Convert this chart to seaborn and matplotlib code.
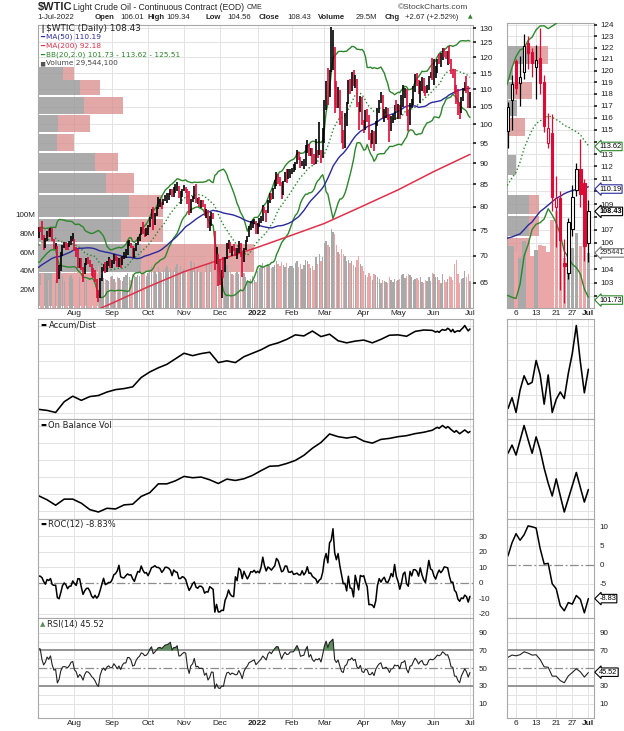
import numpy as np
import pandas as pd
import matplotlib
matplotlib.use("Agg")
import matplotlib.pyplot as plt
import matplotlib.ticker as mticker
import matplotlib.transforms as mtrans
import seaborn as sns

sns.set_theme(style="white")
plt.rcParams["font.family"] = ["DejaVu Sans"]

W, H = 624, 731

# ---------------- data ----------------
holidays = ["2021-07-05", "2021-09-06", "2021-11-25", "2021-12-24", "2022-01-17",
            "2022-02-21", "2022-04-15", "2022-05-30", "2022-06-20"]

# closes 2021-04-16 .. 2021-06-30 (only used to warm up MA / BB / RSI / ROC)
pre_close = [63.13, 63.38, 62.44, 61.35, 61.43, 62.14, 61.91, 62.94, 63.86, 65.01, 63.58,
             64.49, 65.69, 65.63, 64.71, 64.90, 64.92, 65.28, 66.08, 63.82, 65.37, 66.27,
             65.49, 63.36, 62.05, 63.58, 66.05, 65.76, 66.21, 66.85, 66.32,
             67.72, 68.83, 68.81, 69.62, 69.23, 70.05, 69.96, 70.29, 70.91, 70.88, 72.12,
             72.15, 71.04, 71.64, 73.66, 73.06, 73.08, 73.30, 74.05, 72.91, 72.98, 73.47]

# daily sessions 2021-07-01 .. 2022-07-01
close = [75.23, 75.16, 73.37, 72.20, 72.94, 74.56, 74.10, 75.25, 73.13, 71.65, 71.81, 66.42, 67.42, 70.30, 71.91, 72.07, 71.91, 71.65, 72.39, 73.62, 73.95,
         71.26, 70.56, 68.15, 69.09, 68.28, 66.48, 68.29, 69.25, 69.09, 68.44, 67.29, 66.59, 65.46, 63.50, 62.32, 65.64, 67.54, 68.36, 67.42, 68.74, 69.21, 68.50,
         68.59, 69.99, 69.29, 68.35, 69.30, 68.14, 69.72, 70.45, 70.46, 72.61, 72.61, 71.97, 70.29, 70.56, 72.23, 73.30, 73.98, 75.45, 75.29, 74.83, 75.03,
         75.88, 77.62, 78.93, 77.43, 78.30, 79.35, 80.52, 80.64, 80.44, 81.31, 82.28, 82.44, 82.96, 83.87, 82.50, 83.76, 83.76, 84.65, 82.66, 82.81, 83.57,
         84.05, 83.91, 80.86, 78.81, 81.27, 81.93, 84.15, 81.34, 81.59, 80.79, 80.88, 80.76, 78.36, 79.01, 75.94, 76.75, 78.50, 78.39, 68.15, 69.95, 66.18,
         65.57, 66.50, 66.26, 69.49, 72.05, 72.36, 70.94, 71.67, 71.29, 70.73, 70.87, 72.38, 70.86, 68.23, 71.12, 72.76, 73.79, 75.57, 75.98, 76.56, 76.99, 75.21,
         76.08, 76.99, 77.85, 79.46, 78.90, 78.23, 81.22, 82.64, 82.12, 83.82, 85.43, 86.96, 86.90, 85.14, 83.31, 85.60, 87.35, 86.61, 86.82, 88.15,
         88.20, 88.26, 90.27, 92.31, 91.32, 89.36, 89.66, 89.88, 93.10, 95.46, 92.07, 93.66, 91.76, 91.07, 92.35, 92.10, 92.81, 91.59, 95.72,
         103.41, 110.60, 107.67, 115.68, 119.40, 123.70, 108.70, 106.02, 109.33, 103.01, 96.44, 95.04, 102.98, 104.70, 112.12, 111.76, 114.93, 112.34, 113.90, 105.96, 104.24, 107.82, 100.28,
         99.27, 103.28, 101.96, 96.23, 96.03, 98.26, 94.29, 100.60, 104.25, 106.95, 108.21, 102.56, 102.75, 103.79, 102.07, 98.54, 101.70, 102.02, 105.36, 104.69,
         105.17, 102.41, 107.81, 108.26, 109.77, 103.09, 99.76, 105.71, 106.13, 110.49, 114.20, 112.40, 109.59, 112.21, 113.23, 110.29, 109.77, 110.33, 114.09, 115.07, 114.67,
         115.26, 116.87, 118.87, 118.50, 119.41, 122.11, 121.51, 120.67, 120.93, 118.93, 115.31, 115.10, 109.56, 109.52, 106.19, 104.27, 107.62, 109.57, 111.76, 109.78, 105.76,
         108.43]

high = [75.70, 75.65, 76.98, 73.95, 73.41, 74.90, 75.20, 75.52, 75.44, 73.30, 72.50, 71.80, 68.20, 70.65, 72.10, 72.60, 72.60, 72.35, 72.90, 73.90, 74.50,
        73.30, 71.60, 71.20, 69.60, 69.60, 67.80, 68.60, 69.60, 69.70, 69.10, 68.40, 67.70, 67.40, 65.60, 63.80, 65.90, 67.80, 68.50, 68.70, 69.00, 69.70, 69.30,
        69.20, 70.30, 70.10, 69.80, 69.50, 69.70, 69.90, 70.70, 71.20, 72.90, 73.10, 72.50, 71.90, 71.40, 72.50, 73.60, 74.20, 75.70, 76.67, 75.30, 75.50,
        76.00, 77.80, 79.50, 79.80, 78.60, 79.80, 82.18, 81.60, 81.00, 81.60, 82.60, 83.00, 83.10, 83.90, 84.00, 84.25, 85.00, 85.41, 84.50, 83.50, 84.00,
        84.88, 84.30, 84.00, 83.40, 81.60, 82.30, 84.50, 84.97, 81.80, 82.10, 81.40, 81.50, 80.50, 79.40, 79.20, 77.90, 78.80, 78.60, 74.90, 71.60, 70.30,
        69.30, 67.40, 69.70, 69.80, 72.40, 73.00, 72.60, 71.90, 72.30, 71.40, 71.50, 72.80, 72.50, 70.50, 71.40, 73.00, 73.90, 75.90, 76.90, 77.20, 77.30, 76.90,
        76.50, 77.60, 78.00, 80.24, 79.90, 79.20, 81.50, 82.90, 83.10, 84.20, 86.00, 87.90, 87.40, 86.80, 85.50, 85.80, 87.95, 88.50, 88.50, 88.70,
        88.90, 89.70, 90.40, 93.17, 92.70, 91.50, 90.50, 91.00, 94.66, 95.82, 94.90, 93.90, 93.80, 92.30, 96.00, 93.40, 100.54, 93.20, 99.10,
        106.78, 112.51, 116.57, 116.00, 130.50, 129.44, 123.35, 112.40, 110.75, 109.70, 103.70, 98.60, 103.20, 106.16, 112.90, 113.20, 115.40, 116.11, 114.30, 113.10, 106.20, 108.00, 107.90,
        101.30, 104.00, 104.30, 102.60, 97.80, 98.60, 98.30, 101.00, 104.50, 107.00, 109.10, 108.40, 104.30, 104.80, 104.50, 102.50, 102.40, 103.00, 105.50, 107.00,
        105.80, 105.50, 108.40, 111.37, 110.50, 110.10, 104.00, 105.90, 107.10, 111.00, 114.80, 115.00, 112.80, 112.60, 113.80, 113.50, 111.00, 111.20, 114.20, 115.30, 119.98,
        119.50, 117.30, 119.60, 121.00, 121.30, 123.20, 123.00, 122.00, 122.20, 123.70, 119.60, 116.40, 116.30, 111.20, 110.00, 106.30, 107.90, 110.50, 112.30, 114.20, 111.00,
        109.34]

low = [73.35, 74.66, 73.03, 71.00, 71.40, 72.90, 73.70, 73.60, 72.90, 71.30, 71.20, 65.01, 65.70, 67.10, 70.00, 71.40, 71.00, 71.00, 71.60, 72.00, 72.90,
       70.90, 69.80, 67.70, 67.70, 67.40, 65.20, 66.60, 68.20, 68.50, 67.90, 66.30, 65.90, 65.10, 62.40, 61.74, 62.40, 65.40, 67.20, 66.80, 67.00, 68.10, 67.60,
       67.60, 68.50, 68.90, 67.90, 67.80, 67.70, 68.20, 69.40, 69.50, 70.20, 71.80, 71.50, 69.70, 69.60, 70.90, 72.10, 72.90, 74.00, 74.30, 73.70, 73.80,
       74.10, 75.60, 77.40, 74.96, 76.10, 78.00, 79.50, 80.00, 79.50, 80.30, 81.30, 80.70, 81.40, 82.60, 82.00, 82.00, 82.90, 83.50, 81.90, 80.60, 82.00,
       83.50, 83.10, 80.60, 78.25, 78.70, 81.00, 81.70, 80.70, 80.50, 80.00, 79.70, 80.00, 78.00, 77.50, 75.50, 74.90, 75.90, 77.40, 67.40, 68.50, 64.43,
       64.60, 62.43, 65.80, 66.90, 69.30, 71.20, 70.50, 70.00, 70.90, 69.90, 69.30, 70.50, 69.70, 66.12, 68.70, 71.00, 72.60, 73.70, 75.10, 75.40, 76.20, 74.30,
       74.30, 75.60, 76.50, 76.90, 78.50, 76.70, 78.50, 80.80, 81.50, 81.70, 83.90, 84.50, 85.10, 84.50, 81.60, 82.50, 85.40, 85.30, 86.10, 86.40,
       87.30, 87.90, 88.30, 89.70, 90.90, 88.80, 89.20, 88.50, 89.20, 92.60, 91.80, 91.70, 89.90, 89.50, 89.80, 91.20, 92.10, 90.00, 91.20,
       95.20, 104.00, 105.50, 107.90, 115.30, 116.00, 103.10, 104.50, 104.50, 99.80, 94.99, 93.53, 93.80, 99.70, 105.70, 108.50, 109.40, 110.90, 110.40, 104.90, 98.44, 103.50, 99.90,
       97.80, 98.50, 100.80, 95.80, 93.90, 94.80, 92.93, 94.80, 99.70, 103.10, 106.10, 101.90, 100.60, 101.70, 101.10, 95.28, 98.20, 100.30, 101.20, 103.70,
       101.50, 101.50, 102.50, 105.00, 107.50, 102.30, 98.20, 99.80, 104.50, 105.40, 109.20, 111.00, 108.50, 106.00, 109.50, 109.00, 108.00, 108.80, 109.80, 113.40, 113.00,
       111.40, 113.50, 115.00, 118.00, 117.00, 119.30, 120.10, 119.40, 117.60, 118.00, 114.80, 113.50, 108.50, 105.70, 102.50, 101.50, 103.30, 106.50, 109.60, 108.80, 104.60,
       104.56]

# volume, millions
volume = [33, 25, 38, 36, 34, 31, 30, 35, 37, 36, 30, 47, 43, 40, 34, 29, 31, 30, 33, 35, 31,
          38, 36, 42, 33, 30, 37, 33, 30, 28, 27, 31, 30, 33, 40, 45, 42, 36, 32, 31, 30, 29, 33,
          34, 31, 28, 33, 32, 30, 29, 33, 35, 38, 33, 30, 36, 34, 33, 35, 34, 38, 41, 36, 34,
          38, 42, 45, 48, 40, 37, 44, 39, 38, 41, 43, 45, 40, 42, 46, 41, 44, 47, 50, 45, 40,
          42, 44, 52, 55, 50, 41, 48, 53, 42, 40, 39, 44, 51, 47, 56, 48, 52, 40, 61, 55, 58,
          54, 50, 45, 44, 46, 40, 41, 36, 35, 38, 39, 37, 42, 47, 38, 33, 30, 29, 31, 34, 30, 28,
          40, 43, 45, 48, 44, 46, 47, 45, 43, 44, 46, 50, 47, 45, 49, 46, 44, 48, 43, 45,
          45, 43, 48, 50, 44, 47, 42, 46, 52, 50, 47, 43, 45, 41, 55, 47, 58, 50, 55,
          70, 72, 68, 65, 85, 82, 80, 68, 60, 58, 63, 58, 56, 50, 52, 48, 50, 46, 44, 52, 56, 47, 45,
          40, 35, 33, 38, 34, 30, 36, 35, 33, 31, 27, 30, 29, 28, 27, 33, 30, 28, 31, 29,
          30, 31, 35, 36, 32, 34, 37, 35, 33, 30, 31, 32, 30, 33, 28, 27, 30, 29, 33, 29, 38,
          37, 33, 33, 30, 27, 36, 30, 28, 31, 34, 33, 30, 47, 52, 37, 27, 31, 32, 40, 33, 36,
          29.54]

# opens for the zoomed window 2022-06-02 .. 2022-07-01
zoom_start = "2022-06-02"
zoom_open = [114.90, 117.50, 120.80, 118.90, 119.90, 122.40, 121.60, 120.30, 121.10, 119.00, 113.90,
             114.70, 108.80, 109.50, 104.50, 103.70, 107.10, 110.10, 111.80, 110.70, 106.01]

# 200-day MA (history before the window is not available)
ma200_dates = ["2021-08-02", "2021-09-01", "2021-10-01", "2021-11-01", "2021-12-01", "2022-01-03",
               "2022-02-01", "2022-03-01", "2022-04-01", "2022-05-02", "2022-06-01", "2022-07-01"]
ma200_vals = [58.8, 61.5, 64.3, 67.0, 69.2, 71.6, 74.0, 76.4, 80.2, 83.7, 88.0, 92.18]

# last values printed by the chart
last_ma50 = 110.19
last_bb = [101.73, 113.62, 125.51]
last_roc = -8.83
last_rsi = 45.52
last_volume = "29,544,100"

# Accum/Dist and OBV: every 5th session to 2022-05-31, then daily in June
ad_weekly = [110, 107, 101, 132, 148, 136, 147, 150, 160, 167, 170, 175, 202, 218, 230, 240,
             256, 272, 265, 271, 275, 245, 250, 245, 262, 272, 282, 295, 302, 312, 325, 322,
             336, 320, 327, 308, 302, 307, 310, 302, 312, 324, 325, 321, 335, 339, 338]
obv_weekly = [145, 133, 117, 135, 135, 123, 104, 97, 108, 106, 118, 120, 143, 154, 180, 180,
              189, 202, 198, 200, 192, 181, 194, 190, 195, 205, 219, 232, 233, 240, 249, 264,
              285, 302, 327, 319, 315, 319, 306, 300, 311, 314, 319, 322, 328, 332, 338]
ad_june = [333.0, 335.5, 332.1, 337.2, 340.5, 338.5, 339.0, 344.0, 340.7, 334.0, 340.7,
           332.1, 335.1, 336.8, 335.3, 341.0, 345.6, 352.0, 343.7, 336.6, 342.0]
obv_june = [344.2, 346.5, 343.7, 347.8, 352.0, 348.0, 344.2, 348.8, 345.1, 340.0, 335.8,
            332.2, 337.0, 332.3, 327.7, 331.4, 335.1, 338.8, 334.6, 330.5, 334.0]

# volume by price, main chart (price zones, up / down volume in millions)
vbp_lo = [113.0, 108.3, 103.0, 98.0, 93.0, 88.0, 82.9, 77.8, 72.6, 67.0, 61.0]
vbp_hi = [117.0, 112.8, 107.8, 102.7, 97.5, 92.6, 87.6, 82.5, 77.4, 72.3, 66.8]
vbp_up = [617, 1050, 1143, 493, 468, 1425, 1700, 2283, 2075, 2575, 375]
vbp_dn = [290, 500, 990, 808, 425, 583, 708, 835, 1043, 2825, 1125]

# volume by price, zoomed chart
zvbp_lo = [103.3, 104.8, 106.5, 108.2, 111.3, 114.5, 116.1, 117.6, 119.2, 120.6]
zvbp_hi = [104.7, 106.4, 108.1, 109.7, 112.9, 116.0, 117.5, 119.0, 120.6, 122.1]
zvbp_up = [0, 0, 76, 76, 33, 0, 35, 23, 21, 77]
zvbp_dn = [35, 82, 35, 35, 0, 64, 0, 64, 0, 67]

month_names = {1: "2022", 2: "Feb", 3: "Mar", 4: "Apr", 5: "May", 6: "Jun", 7: "Jul",
               8: "Aug", 9: "Sep", 10: "Oct", 11: "Nov", 12: "Dec"}
zoom_ticks = ["2022-06-06", "2022-06-13", "2022-06-21", "2022-06-27", "2022-07-01"]
zoom_tick_labels = ["6", "13", "21", "27", "Jul"]

# ---------------- derived ----------------
dates = pd.bdate_range("2021-07-01", "2022-07-01")
dates = dates[~dates.isin(pd.to_datetime(holidays))]
n = len(dates)
xs = np.arange(n)
pos = {d.strftime("%Y-%m-%d"): i for i, d in enumerate(dates)}

c = np.array(close)
hi = np.array(high)
lo = np.array(low)
vol = np.array(volume, dtype=float)

allc = pd.Series(pre_close + close)
k = len(pre_close)
ma50 = allc.rolling(50).mean().values[k:]
mid = allc.rolling(20).mean()
sd = allc.rolling(20).std(ddof=0)
bb_mid = mid.values[k:]
bb_up = (mid + 2 * sd).values[k:]
bb_dn = (mid - 2 * sd).values[k:]
roc = ((allc / allc.shift(12) - 1) * 100).values[k:]
dlt = allc.diff()
gain = dlt.clip(lower=0).ewm(alpha=1 / 14, adjust=False).mean()
loss = (-dlt.clip(upper=0)).ewm(alpha=1 / 14, adjust=False).mean()
rsi = (100 - 100 / (1 + gain / loss)).values[k:]
prev = allc.shift(1).values[k:]
is_up = c >= prev

RED = "#dd0a35"
BLUE = "#2a2a9c"
GREEN = "#2c862c"
MA_RED = "#e0304a"
GRID = "#e3e3e3"
LS = "Liberation Sans"
TICK_FS = 5.8

month_idx = [i for i in range(1, n) if dates[i].month != dates[i - 1].month]
month_lab = [month_names[dates[i].month] for i in month_idx]

z0 = pos[zoom_start]
zx = xs[z0:]
xlim_main = (-0.3, 253.8)
xlim_zoom = (z0 - 0.25, n - 1 + 1.4)

fig = plt.figure(figsize=(W / 100, H / 100), dpi=100)


def box(x0, y0, x1, y1):
    return [x0 / W, 1 - y1 / H, (x1 - x0) / W, (y1 - y0) / H]


def frame(ax):
    for s in ax.spines.values():
        s.set_color("#a8a8a8")
        s.set_linewidth(0.8)
    ax.tick_params(length=0, colors="#222222")


def month_axis(ax, labels):
    ax.set_xticks(month_idx)
    if labels:
        ax.set_xticklabels(month_lab, fontsize=6.0, family=LS)
        for t in ax.get_xticklabels():
            if t.get_text() == "2022":
                t.set_fontweight("bold")
    else:
        ax.set_xticklabels([])
    ax.tick_params(axis="x", length=0, pad=1.5)
    ax.grid(axis="x", color=GRID, lw=0.7)


def zoom_axis(ax, labels):
    ax.set_xticks([pos[d] for d in zoom_ticks])
    if labels:
        ax.set_xticklabels(zoom_tick_labels, fontsize=6.0, family=LS)
        ax.get_xticklabels()[-1].set_fontweight("bold")
    else:
        ax.set_xticklabels([])
    ax.tick_params(axis="x", length=0, pad=1.5)
    ax.grid(axis="x", color=GRID, lw=0.7)


def right_ticks(ax, ticks, hidden=()):
    ax.yaxis.tick_right()
    ax.yaxis.set_minor_locator(mticker.NullLocator())
    ax.set_yticks(ticks)
    ax.set_yticklabels(["" if t in hidden else str(t) for t in ticks], fontsize=TICK_FS, family=LS)


def tag(ax, yval, text, ec, bold=False, tc="black"):
    tr = mtrans.blended_transform_factory(ax.transAxes, ax.transData)
    ax.text(1.06, yval, text, transform=tr, fontsize=5.3, va="center", ha="left",
            family=LS, weight="bold" if bold else "normal", color=tc,
            bbox=dict(boxstyle="larrow,pad=0.1", fc="white", ec=ec, lw=0.8),
            clip_on=False, zorder=10)


vcol = np.where(is_up, "#a9a9a9", "#eba7a7")

# ---------------- main price panel ----------------
axv = fig.add_axes(box(38, 25, 473, 308))
axp = fig.add_axes(box(38, 25, 473, 308))
axp.patch.set_visible(False)
axp.set_yscale("log")
axp.set_ylim(60.7, 131.07)
axp.set_xlim(*xlim_main)
axv.set_xlim(*xlim_main)
axv.set_ylim(0, 304)

blend = mtrans.blended_transform_factory(axv.transAxes, axp.transData)
price_ticks = list(range(65, 131, 5))
axv.hlines(price_ticks, 0, 1, transform=blend, colors=GRID, lw=0.7, zorder=0)
scale = (np.array(vbp_up) + np.array(vbp_dn)).max() / 0.497
hgt = np.array(vbp_hi) - np.array(vbp_lo)
axv.barh(vbp_lo, np.array(vbp_up) / scale, height=hgt, left=0, align="edge",
         color="#9c9c9c", alpha=0.85, lw=0, transform=blend, zorder=1)
axv.barh(vbp_lo, np.array(vbp_dn) / scale, height=hgt, left=np.array(vbp_up) / scale,
         align="edge", color="#d98a8a", alpha=0.75, lw=0, transform=blend, zorder=1)
axv.bar(xs, vol, width=0.8, color=vcol, lw=0, zorder=2)
axv.set_yticks([20, 40, 60, 80, 100])
axv.set_yticklabels(["20M", "40M", "60M", "80M", "100M"], fontsize=TICK_FS, family=LS)
frame(axv)
axv.tick_params(axis="y", pad=2)
month_axis(axv, False)

axp.vlines(xs, lo, hi, colors=np.where(is_up, "black", RED), lw=1.2, zorder=3)
sns.lineplot(x=xs, y=bb_up, ax=axp, color=GREEN, linewidth=1.0)
sns.lineplot(x=xs, y=bb_dn, ax=axp, color=GREEN, linewidth=1.0)
sns.lineplot(x=xs, y=bb_mid, ax=axp, color=GREEN, linewidth=1.0, linestyle=":")
sns.lineplot(x=xs, y=ma50, ax=axp, color=BLUE, linewidth=1.0)
sns.lineplot(x=[pos[d] for d in ma200_dates], y=ma200_vals, ax=axp, color=MA_RED, linewidth=1.1)
axp.set_ylim(60.7, 131.07)
axp.set_xlim(*xlim_main)
right_ticks(axp, price_ticks)
axp.tick_params(axis="y", length=2.5, pad=2, colors="#222222")
axp.set_xticks(month_idx)
axp.set_xticklabels(month_lab, fontsize=6.0, family=LS)
for t in axp.get_xticklabels():
    if t.get_text() == "2022":
        t.set_fontweight("bold")
axp.tick_params(axis="x", length=0, pad=1.5)
axp.set_xlabel("")
axp.set_ylabel("")
for s in axp.spines.values():
    s.set_visible(False)

# ---------------- zoomed price panel ----------------
azv = fig.add_axes(box(507, 22.7, 594, 308))
azp = fig.add_axes(box(507, 22.7, 594, 308))
azp.patch.set_visible(False)
azp.set_yscale("log")
azp.set_ylim(101.15, 124.2)
azp.set_xlim(*xlim_zoom)
azv.set_xlim(*xlim_zoom)
azv.set_ylim(0, 153)
zblend = mtrans.blended_transform_factory(azv.transAxes, azp.transData)
zticks = list(range(102, 125))
azv.hlines(zticks, 0, 1, transform=zblend, colors=GRID, lw=0.7, zorder=0)
zscale = (np.array(zvbp_up) + np.array(zvbp_dn)).max() / 0.47
zh = np.array(zvbp_hi) - np.array(zvbp_lo)
azv.barh(zvbp_lo, np.array(zvbp_up) / zscale, height=zh, left=0, align="edge",
         color="#9c9c9c", alpha=0.85, lw=0, transform=zblend, zorder=1)
azv.barh(zvbp_lo, np.array(zvbp_dn) / zscale, height=zh, left=np.array(zvbp_up) / zscale,
         align="edge", color="#d98a8a", alpha=0.75, lw=0, transform=zblend, zorder=1)
azv.bar(zx, vol[z0:], width=0.85, color=vcol[z0:], lw=0, zorder=2)
azv.set_yticks([])
frame(azv)
zoom_axis(azv, False)

zo = np.array(zoom_open)
zc = c[z0:]
edge = np.where(is_up[z0:], "black", RED)
fill = np.where(zc > zo, "white", edge)
azp.vlines(zx, lo[z0:], hi[z0:], colors=edge, lw=0.9, zorder=3)
azp.bar(zx, np.abs(zc - zo), bottom=np.minimum(zc, zo), width=0.62, color=fill,
        edgecolor=edge, linewidth=0.8, zorder=4)
zs = slice(z0 - 2, n)
sns.lineplot(x=xs[zs], y=bb_up[zs], ax=azp, color=GREEN, linewidth=1.0)
sns.lineplot(x=xs[zs], y=bb_dn[zs], ax=azp, color=GREEN, linewidth=1.0)
sns.lineplot(x=xs[zs], y=bb_mid[zs], ax=azp, color=GREEN, linewidth=1.0, linestyle=":")
sns.lineplot(x=xs[zs], y=ma50[zs], ax=azp, color=BLUE, linewidth=1.0)
azp.set_ylim(101.15, 124.2)
azp.set_xlim(*xlim_zoom)
right_ticks(azp, zticks, hidden=(102, 105, 108, 110, 114))
azp.tick_params(axis="y", length=2.5, pad=2, colors="#222222")
azp.set_xticks([pos[d] for d in zoom_ticks])
azp.set_xticklabels(zoom_tick_labels, fontsize=6.0, family=LS)
azp.get_xticklabels()[-1].set_fontweight("bold")
azp.tick_params(axis="x", length=0, pad=1.5)
azp.set_xlabel("")
azp.set_ylabel("")
for s in azp.spines.values():
    s.set_visible(False)
tag(azp, last_bb[1], f"{last_bb[1]:.2f}", GREEN)
tag(azp, last_ma50, f"{last_ma50:.2f}", BLUE)
tag(azp, c[-1], f"{c[-1]:.2f}", "black", bold=True)
tag(azp, last_bb[0], f"{last_bb[0]:.2f}", GREEN)
tag(azv, vol[-1], last_volume.replace(",", "")[:6], "#777777", tc="#333333")

# ---------------- Accum/Dist, OBV ----------------
wk_x = list(range(0, 231, 5))
jn_x = list(range(z0, n))


def line_panel(rect, xv, yv, main, lw=1.15):
    ax = fig.add_axes(rect)
    sns.lineplot(x=xv, y=yv, ax=ax, color="black", linewidth=lw)
    ax.set_xlim(*(xlim_main if main else xlim_zoom))
    ax.margins(y=0.075)
    ax.yaxis.set_major_locator(mticker.MaxNLocator(7))
    ax.set_yticklabels([])
    ax.grid(axis="y", color=GRID, lw=0.7)
    frame(ax)
    ax.set_xlabel("")
    ax.set_ylabel("")
    return ax


ax_ad = line_panel(box(38, 319, 473, 419), wk_x + jn_x, ad_weekly + ad_june, True)
month_axis(ax_ad, False)
ax_zad = line_panel(box(507, 319, 594, 419), jn_x, ad_june, False)
zoom_axis(ax_zad, False)
ax_obv = line_panel(box(38, 419, 473, 518.5), wk_x + jn_x, obv_weekly + obv_june, True)
month_axis(ax_obv, False)
ax_zobv = line_panel(box(507, 419, 594, 518.5), jn_x, obv_june, False)
zoom_axis(ax_zobv, False)

# ---------------- ROC ----------------
DASHDOT = (0, (7, 2, 1.5, 2))


def roc_panel(rect, xv, yv, ylim, ticks, main, hidden=()):
    ax = fig.add_axes(rect)
    for t in ticks:
        if t != 0:
            ax.axhline(t, color=GRID, lw=0.7, zorder=0)
    ax.axhline(0, color="#8c8c8c", lw=0.9, ls=DASHDOT, zorder=1)
    sns.lineplot(x=xv, y=yv, ax=ax, color="black", linewidth=1.1)
    ax.set_ylim(*ylim)
    ax.set_xlim(*(xlim_main if main else xlim_zoom))
    right_ticks(ax, ticks, hidden)
    frame(ax)
    ax.tick_params(axis="y", pad=4)
    ax.set_xlabel("")
    ax.set_ylabel("")
    return ax


ax_roc = roc_panel(box(38, 518.5, 473, 618), xs, roc, (-22.8, 41.4), [-20, -10, 0, 10, 20, 30], True)
month_axis(ax_roc, False)
ax_zroc = roc_panel(box(507, 518.5, 594, 618), xs[z0 - 1:], roc[z0 - 1:], (-13.9, 12.1),
                    [-10, -5, 0, 5, 10], False, hidden=(-10,))
zoom_axis(ax_zroc, False)
tag(ax_zroc, last_roc, f"{last_roc:.2f}", "black")

# ---------------- RSI ----------------


def rsi_panel(rect, xv, yv, main, hidden=()):
    ax = fig.add_axes(rect)
    for t in range(10, 100, 10):
        if t not in (30, 50, 70):
            ax.axhline(t, color=GRID, lw=0.7, zorder=0)
    ax.axhline(70, color="#8c8c8c", lw=1.3, zorder=1)
    ax.axhline(30, color="#8c8c8c", lw=1.3, zorder=1)
    ax.axhline(50, color="#8c8c8c", lw=0.9, ls=DASHDOT, zorder=1)
    ax.fill_between(xv, 70, yv, where=yv > 70, interpolate=True, color="#5f8f5f", lw=0, zorder=2)
    sns.lineplot(x=xv, y=yv, ax=ax, color="#222222", linewidth=0.8)
    ax.set_ylim(-6.1, 106.6)
    ax.set_xlim(*(xlim_main if main else xlim_zoom))
    right_ticks(ax, [10, 30, 50, 70, 90], hidden)
    frame(ax)
    ax.tick_params(axis="y", pad=4)
    ax.set_xlabel("")
    ax.set_ylabel("")
    return ax


ax_rsi = rsi_panel(box(38, 618, 473, 718), xs, rsi, True)
month_axis(ax_rsi, True)
ax_zrsi = rsi_panel(box(507, 618, 594, 718), xs[z0 - 1:], rsi[z0 - 1:], False, hidden=(50,))
zoom_axis(ax_zrsi, True)
tag(ax_zrsi, last_rsi, f"{last_rsi:.2f}", "black")

# ---------------- texts ----------------


def ftext(x, y, s, **kw):
    kw.setdefault("va", "center")
    kw.setdefault("ha", "left")
    fig.text(x / W, 1 - y / H, s, **kw)


ftext(37.5, 7.0, "$WTIC", fontsize=8.0, weight="bold", family=LS)
ftext(72.8, 7.3, "Light Crude Oil - Continuous Contract (EOD)", fontsize=6.2, family=LS)
ftext(246.5, 7.6, "CME", fontsize=5.0, family=LS)
ftext(398, 7.3, "\u00a9StockCharts.com", fontsize=6.0, family=LS, color="#444444")
row2 = [(37.7, "1-Jul-2022", False), (94.3, "Open", True), (120, "106.01", False),
        (147, "High", True), (166, "109.34", False), (205, "Low", True),
        (227.7, "104.56", False), (258.3, "Close", True), (287.3, "108.43", False),
        (318.3, "Volume", True), (356, "29.5M", False), (385, "Chg", True),
        (405, "+2.67 (+2.52%)", False)]
for x0, s, b in row2:
    ftext(x0, 17.3, s, fontsize=5.6, family=LS, weight="bold" if b else "normal")
ftext(467.5, 17.0, "\u25b2", fontsize=4.3, color=GREEN)

ftext(40.3, 28.8, "\u2503", fontsize=5.0, color="#333333")
ftext(46.5, 28.8, "$WTIC (Daily) 108.43", fontsize=6.4, color="#222222")
ftext(40.3, 37.2, "\u2501", fontsize=5.0, color=BLUE)
ftext(46.5, 37.2, f"MA(50) {last_ma50:.2f}", fontsize=5.3, color=BLUE)
ftext(40.3, 45.8, "\u2501", fontsize=5.0, color=MA_RED)
ftext(46.5, 45.8, f"MA(200) {ma200_vals[-1]:.2f}", fontsize=5.3, color=MA_RED)
ftext(40.3, 54.5, "\u2501", fontsize=5.0, color=GREEN)
ftext(46.5, 54.5, f"BB(20,2.0) {last_bb[0]:.2f} - {last_bb[1]:.2f} - {last_bb[2]:.2f}",
      fontsize=5.3, color=GREEN)
ftext(40.0, 63.3, "\u2586", fontsize=4.0, color="#555555")
ftext(46.5, 63.3, f"Volume {last_volume}", fontsize=5.3, color="#444444")

ftext(40.3, 325.0, "\u25ac", fontsize=4.5, color="black")
ftext(48.5, 325.0, "Accum/Dist", fontsize=6.0, color="#222222")
ftext(40.3, 425.0, "\u25ac", fontsize=4.5, color="black")
ftext(48.5, 425.0, "On Balance Vol", fontsize=6.0, color="#222222")
ftext(40.3, 524.5, "\u25ac", fontsize=4.5, color="black")
ftext(48.5, 524.5, f"ROC(12) {last_roc:.2f}%", fontsize=6.0, color="#222222")
ftext(40.0, 624.5, "\u25b2", fontsize=5.0, color="#5f8f5f")
ftext(47.0, 624.5, f"RSI(14) {last_rsi:.2f}", fontsize=6.0, color="#222222")

fig.savefig("out.png", dpi=100)
